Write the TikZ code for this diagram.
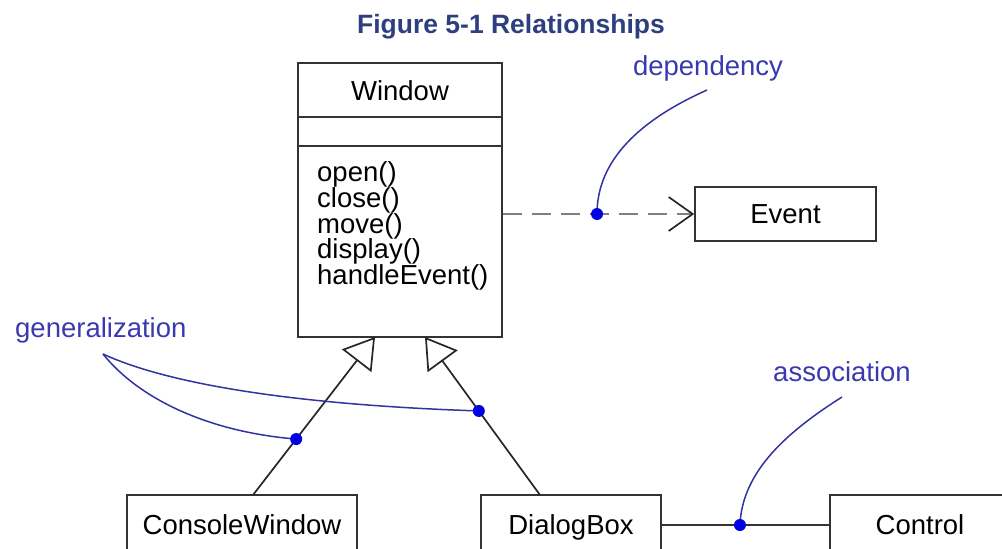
\documentclass[tikz,border=0pt]{standalone}
\usepackage{fontspec}
\setmainfont{Liberation Sans}
\usetikzlibrary{arrows.meta,calc}
\definecolor{titleblue}{HTML}{2E3F7F}
\definecolor{lblblue}{HTML}{3A3AB0}
\definecolor{dotblue}{HTML}{0000E0}
\definecolor{crvblue}{HTML}{3232A0}
\definecolor{boxgray}{HTML}{333333}
\definecolor{dashgray}{HTML}{808080}
\begin{document}
\begin{tikzpicture}[x=1pt,y=-1pt,
  txt/.style={font=\fontsize{27.5}{29}\selectfont, inner sep=0pt},
  cls/.style={draw=boxgray, line width=1.7pt, minimum height=58pt, inner sep=0pt,
    font=\fontsize{27.5}{29}\selectfont, text height=19.5pt, text depth=0pt},
  lbl/.style={text=lblblue, font=\fontsize{27.5}{29}\selectfont, inner sep=0pt, anchor=base},
  note/.style={draw=crvblue, line width=1.5pt},
  pin/.style={circle, fill=dotblue, minimum size=12pt, inner sep=0pt},
  gen/.style={draw=black!85, line width=1.7pt,
    -{Triangle[open, length=30pt, width=37pt, line width=1.7pt]}},
  dep/.style={draw=dashgray, line width=2pt, dash pattern=on 19pt off 10pt,
    -{Straight Barb[length=24pt, width=34pt, line width=1.7pt, color=black!85]}},
  assoc/.style={draw=boxgray, line width=1.7pt}
]
\useasboundingbox (0,0) rectangle (1002,549);
\clip (0,0) rectangle (1002,549);

% title
\node[font=\bfseries\fontsize{26.5}{28}\selectfont, text=titleblue, anchor=base, inner sep=0pt]
  (title) at (511,33) {Figure 5-1 Relationships};

% Window class
\node[draw=boxgray, line width=1.7pt, minimum width=204pt, minimum height=274pt, inner sep=0pt]
  (win) at (400,200) {};
\draw[boxgray, line width=1.7pt] ($(win.north west)+(0,55)$) -- ($(win.north east)+(0,55)$);
\draw[boxgray, line width=1.7pt] ($(win.north west)+(0,84)$) -- ($(win.north east)+(0,84)$);
\node[txt, anchor=base] (wname) at (400,100) {Window};
\node[txt, anchor=base west] (op1) at (317,181) {open()};
\node[txt, anchor=base west] (op2) at (317,207) {close()};
\node[txt, anchor=base west] (op3) at (317,233) {move()};
\node[txt, anchor=base west] (op4) at (317,258) {display()};
\node[txt, anchor=base west] (op5) at (317,284) {handleEvent()};

% other classes
\node[cls, minimum width=181pt, minimum height=54pt] (ev) at (785.5,214) {Event};
\node[cls, minimum width=230pt, minimum height=60pt] (cw) at (242,525) {ConsoleWindow};
\node[cls, minimum width=180pt, minimum height=60pt] (db) at (571,525) {DialogBox};
\node[cls, minimum width=180pt, minimum height=60pt] (ctrl) at (920,525) {Control};

% dependency
\draw[dep] (win.east |- ev.west) -- (ev.west);

% generalizations
\coordinate (cwtop) at (253,495);
\coordinate (g1) at (375,337);
\coordinate (dbtop) at (540,495);
\coordinate (g2) at (425,337);
\draw[gen] (cwtop) -- (g1);
\draw[gen] (dbtop) -- (g2);

% association
\draw[assoc] (db.east) -- (ctrl.west);

% annotation labels
\node[lbl] (deplbl) at (708,75) {dependency};
\node[lbl, anchor=base west] (genlbl) at (15,337) {generalization};
\node[lbl] (asslbl) at (842,381) {association};

% annotation curves
\coordinate (depend) at (707,90);
\coordinate (genapex) at (103,354);
\coordinate (assend) at (842,397);
\coordinate (dd) at (597,214);
\coordinate (gd1) at ($(cwtop)!0.354!(g1)$);
\coordinate (gd2) at ($(dbtop)!0.532!(g2)$);
\coordinate (ad) at ($(db.east)!0.467!(ctrl.west)$);

\draw[note] (dd) .. controls (597,160) and (640,120) .. (depend);
\draw[note] (genapex) .. controls (170,385) and (300,405) .. (gd2);
\draw[note] (genapex) .. controls (140,400) and (210,432) .. (gd1);
\draw[note] (ad) .. controls (742,470) and (790,430) .. (assend);

\node[pin] (pdd) at (dd) {};
\node[pin] (pgd1) at (gd1) {};
\node[pin] (pgd2) at (gd2) {};
\node[pin] (pad) at (ad) {};
\end{tikzpicture}
\end{document}
